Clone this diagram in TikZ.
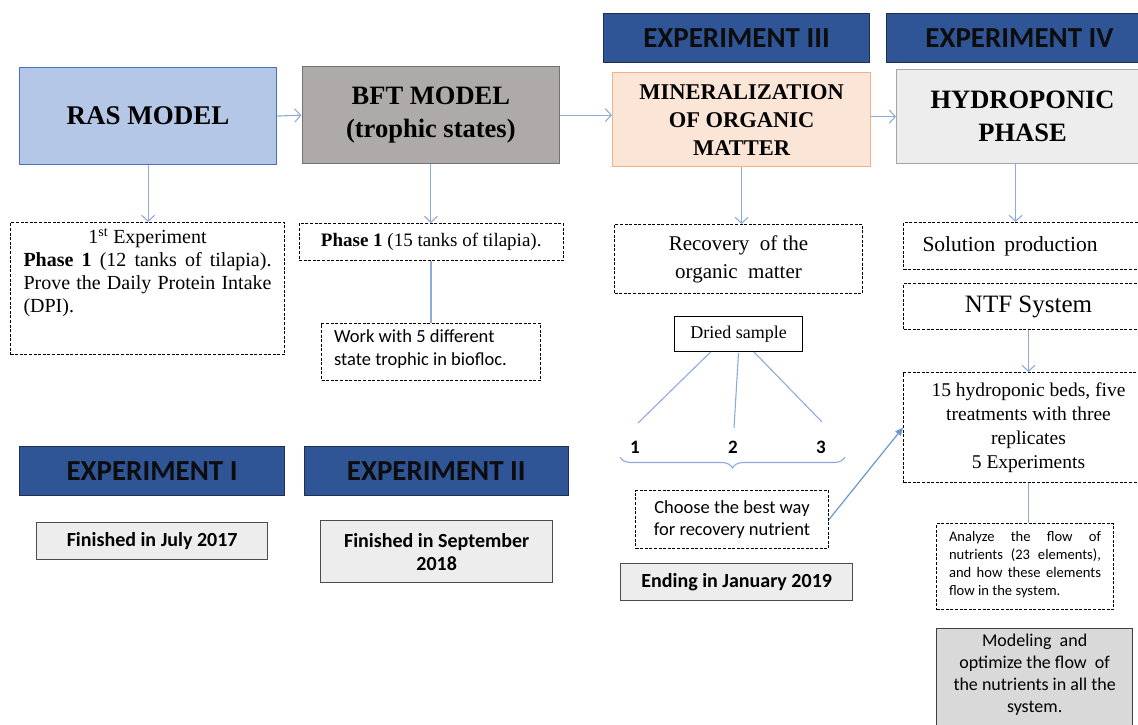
\documentclass[tikz,border=0pt]{standalone}
\usepackage{fontspec}
\setmainfont{Liberation Serif}
\newfontfamily\calfont{Carlito}
\usetikzlibrary{arrows.meta,decorations.pathreplacing}
\definecolor{rasfill}{HTML}{B4C7E7}
\definecolor{rasdraw}{HTML}{4472C4}
\definecolor{bftfill}{HTML}{AEAAAA}
\definecolor{bftdraw}{HTML}{767171}
\definecolor{expfill}{HTML}{2F5597}
\definecolor{expdraw}{HTML}{1F2F50}
\definecolor{minfill}{HTML}{FBE5D6}
\definecolor{mindraw}{HTML}{F4B183}
\definecolor{hydfill}{HTML}{EDEDED}
\definecolor{hyddraw}{HTML}{A5A5A5}
\definecolor{endfill}{HTML}{EDEDED}
\definecolor{modfill}{HTML}{D9D9D9}
\definecolor{arrcol}{HTML}{8EAADB}
\definecolor{arrdark}{HTML}{6A97D0}
\newcommand{\fs}[2]{\fontsize{#1}{#2}\selectfont}
\tikzset{
  x=1pt, y=-1pt,
  box/.style={anchor=north west, inner sep=0pt, align=center},
  model/.style={box, line width=1.2pt, font=\fs{26.5}{33}\bfseries},
  expbox/.style={box, fill=expfill, draw=expdraw, line width=1pt, minimum width=266pt, minimum height=49pt, font=\calfont\fs{29}{32}\bfseries, text=black!95},
  datebox/.style={box, fill=endfill, draw=black!70, line width=1.3pt, font=\calfont\fs{20}{23}\bfseries},
  dbox/.style={box, draw=black, line width=1pt, dash pattern=on 3pt off 1.6pt},
  arr/.style={draw=arrcol, line width=1.1pt, -{Straight Barb[length=6pt,width=13pt,line width=1.1pt]}},
  ln/.style={draw=arrcol, line width=1.1pt},
  num/.style={font=\calfont\fs{19}{22}\bfseries, inner sep=0pt}
}
\begin{document}
\begin{tikzpicture}
\useasboundingbox (0,0) rectangle (1138,725);
% Model boxes
\node[model, fill=rasfill, draw=rasdraw, minimum width=257pt, minimum height=97pt, font=\fs{27}{33}\bfseries] (ras) at (19,67) {RAS MODEL};
\node[model, fill=bftfill, draw=bftdraw, minimum width=257.5pt, minimum height=97pt] (bft) at (301.5,66) {BFT MODEL\\(trophic states)};
\node[model, fill=minfill, draw=mindraw, minimum width=258pt, minimum height=94pt, font=\fs{22.5}{28}\bfseries] (min) at (612,72) {MINERALIZATION\\OF ORGANIC\\MATTER};
\node[model, fill=hydfill, draw=hyddraw, minimum width=252pt, minimum height=94pt] (hyd) at (896,69) {HYDROPONIC\\PHASE};
% Experiment labels
\node[expbox, minimum width=265pt] (e1) at (19,446) {EXPERIMENT I};
\node[expbox, minimum width=264.5pt] (e2) at (303.5,446) {EXPERIMENT II};
\node[expbox] (e3) at (603,13) {EXPERIMENT III};
\node[expbox] (e4) at (886,13) {EXPERIMENT IV};
% Date boxes
\node[datebox, minimum width=231pt, minimum height=37pt] (d1) at (36,522) {Finished in July 2017};
\node[datebox, minimum width=232pt, minimum height=62pt] (d2) at (320,520) {Finished in September\\2018};
\node[datebox, minimum width=232pt, minimum height=37pt] (d3) at (620,563) {Ending in January 2019};
% Column 1
\node[dbox, minimum width=274pt, minimum height=132pt, anchor=north west] (p1) at (10,222) {};
\node[anchor=north, inner sep=0pt, text width=248pt, align=justify, font=\fs{20}{23}] (p1t) at ([yshift=-6pt]p1.north) {%
{\centering 1\textsuperscript{st} Experiment\par}
\textbf{Phase 1} (12 tanks of tilapia).\linebreak
Prove the Daily Protein Intake\linebreak
(DPI).};
% Column 2
\node[dbox, minimum width=264.5pt, minimum height=37pt, font=\fs{19}{22}] (p2) at (298.5,223) {\textbf{Phase 1} (15 tanks of tilapia).};
\node[dbox, minimum width=219pt, minimum height=57pt, anchor=north west] (wk) at (321,323) {};
\node[anchor=north west, inner sep=0pt, align=left, font=\calfont\fs{18.5}{23}] (wkt) at ([xshift=13pt,yshift=-6pt]wk.north west) {Work with 5 different\\state trophic in biofloc.};
% Column 3
\node[dbox, minimum width=248pt, minimum height=69pt, font=\fs{21}{28}] (rec) at (614,224) {Recovery\ \ of the\\organic\ \ matter};
\node[box, draw=black, line width=1.2pt, minimum width=128pt, minimum height=35pt, font=\fs{18}{20}] (dry) at (674,316) {Dried sample};
\node[num] (n1) at (635,447) {1};
\node[num] (n2) at (733,447) {2};
\node[num] (n3) at (821,447) {3};
\coordinate (c1) at (638,423);
\coordinate (c2) at (734,428);
\coordinate (c3) at (822,422);
\draw[ln] (710.6,352) -- (c1);
\draw[ln] (738.5,353) -- (c2);
\draw[ln] (754,352) -- (c3);
\coordinate (bl) at (620,457);
\coordinate (br) at (845,457);
\draw[ln, decorate, decoration={brace, amplitude=11pt, mirror}] (bl) -- (br);
\node[dbox, minimum width=193pt, minimum height=58pt, font=\calfont\fs{18.5}{22}] (ch) at (635,490) {Choose the best way\\for recovery nutrient};
% Column 4
\node[dbox, minimum width=250pt, minimum height=47pt, align=left, font=\fs{21.5}{24}] (sol) at (903,222) {\hspace*{14pt}Solution\ \,production\hspace*{51pt}};
\node[dbox, minimum width=250pt, minimum height=46pt, font=\fs{25}{28}] (ntf) at (903,283) {NTF System};
\node[dbox, minimum width=250pt, minimum height=110pt, font=\fs{19.5}{24}] (h15) at (903,372) {15 hydroponic beds, five\\treatments with three\\replicates\\5 Experiments};
\node[dbox, minimum width=177pt, minimum height=86pt, anchor=north west] (an) at (936,523) {};
\node[anchor=north, inner sep=0pt, text width=152pt, align=justify, font=\calfont\fs{14.6}{18}] (ant) at ([yshift=-8pt]an.north) {%
Analyze the flow of\linebreak
nutrients (23 elements),\linebreak
and how these elements\linebreak
flow in the system.};
\node[box, fill=modfill, draw=black!75, line width=1.3pt, minimum width=196pt, minimum height=120pt, font=\calfont\fs{18}{22}] (mod) at (936,628) {};
\node[anchor=north, inner sep=0pt, align=center, font=\calfont\fs{18}{22}] (modt) at ([yshift=-6pt]mod.north) {Modeling\ \ and\\optimize the flow\ \ of\\the nutrients in all the\\system.};
% Connectors
\draw[arr] (ras.east) -- (bft.west);
\draw[arr] (bft.east) -- (bft.east -| min.west);
\draw[arr] (min.east |- hyd.west) -- (hyd.west);
\draw[arr] (ras.south) -- (ras.south |- p1.north);
\draw[arr] (bft.south) -- (bft.south |- p2.north);
\draw[ln] (p2.south -| wk.north) -- (wk.north);
\draw[arr] (min.south) -- (min.south |- rec.north);
\draw[arr] ([xshift=-7pt]hyd.south) -- ([xshift=-7pt]hyd.south |- sol.north);
\draw[arr] (ntf.south) -- (h15.north);
\draw[ln] (h15.south) -- (h15.south |- an.north);
\draw[draw=arrdark, line width=1.2pt, -{Triangle[length=8pt,width=7pt]}] (ch.east) -- (h15.west);
\end{tikzpicture}
\end{document}
